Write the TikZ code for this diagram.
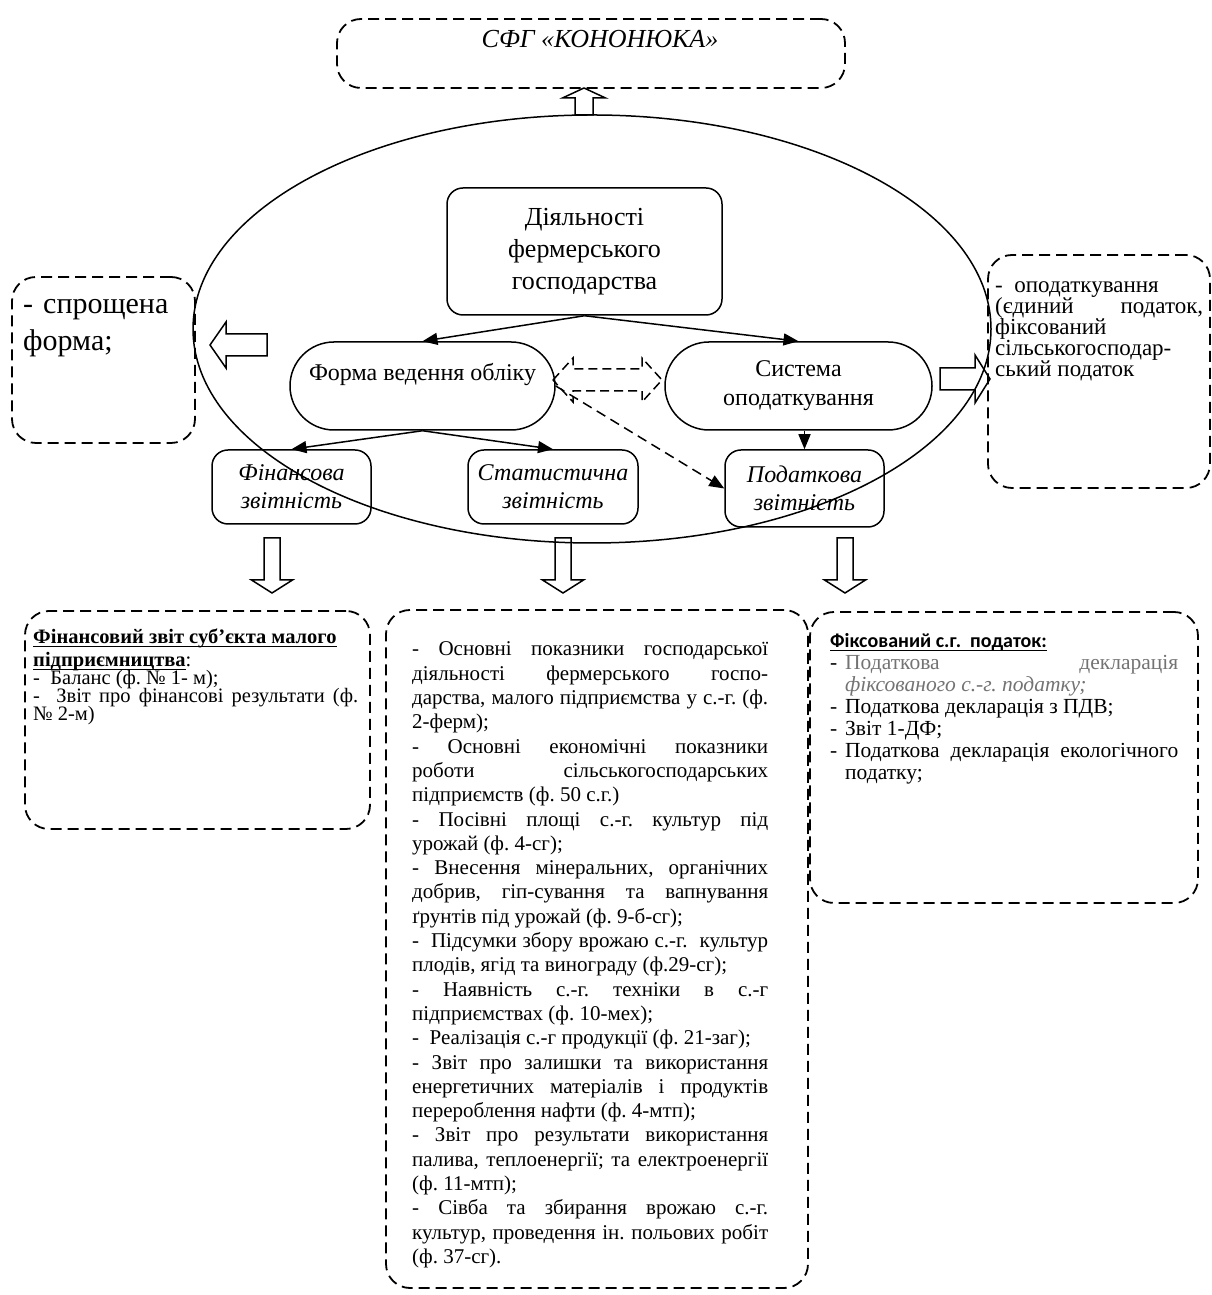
\documentclass[tikz,border=0pt]{standalone}
\usepackage{fontspec}
\setmainfont{Liberation Serif}
\newfontfamily\calibri{Carlito}
\usepackage{tikz}
\usetikzlibrary{positioning}
\usetikzlibrary{arrows.meta}
\definecolor{greyText}{rgb}{0.45,0.45,0.45}
\frenchspacing
\newcommand{\tightLines}{\lineskiplimit=-100pt\relax}
\newcommand{\thickUnder}[1]{\setbox0\hbox{#1}\rlap{\rule[-3pt]{\wd0}{1.3pt}}\box0}
\newcommand{\taxItem}{\par\hangindent=15pt\hangafter=1\noindent\makebox[15pt][l]{-}}

\begin{document}
\begin{tikzpicture}[x=1pt,y=1pt]

            \tikzstyle{solidBox} = [draw, line width=1.5pt, rounded corners=16pt, inner sep=0pt, align=center];
            \tikzstyle{pillBox} = [draw, line width=1.5pt, rounded corners=44pt, inner sep=0pt, align=center, font=\fontsize{24}{29}\selectfont];
            \tikzstyle{dashedBox} = [draw, line width=1.8pt, dash pattern=on 11pt off 6pt, rounded corners=24pt, inner sep=0pt];
            \tikzstyle{blockArrow} = [line width=1.5pt, line join=miter];
            \tikzstyle{link} = [line width=1.5pt, -{Triangle[length=15pt,width=12pt]}];
            \tikzstyle{boxText} = [inner sep=0pt, anchor=base west, align=justify];

            \useasboundingbox (0,0) rectangle (1211,1295);

            \node[dashedBox, minimum width=508, minimum height=69] (farm) at (591,1241.5) {};
            \node[inner sep=0pt, anchor=base, font=\fontsize{26}{30}\selectfont\itshape] (farmName) at (600,1247) {СФГ «КОНОНЮКА»};

            \draw[line width=1.5pt] (592,966) ellipse [x radius=399, y radius=214];

            \node[solidBox, minimum width=275, minimum height=127, font=\fontsize{26}{32}\selectfont] (activity) at (584.5,1043.5) {Діяльності\\фермерського\\господарства};
            \node[pillBox, minimum width=265, minimum height=88] (form) at (422.5,909) {Форма ведення обліку\\~};
            \node[pillBox, minimum width=267, minimum height=88] (taxSys) at (798.5,909) {Система\\оподаткування};

            \node[solidBox, minimum width=159, minimum height=74, font=\fontsize{24}{28}\selectfont\itshape] (finRep) at (291.5,808) {Фінансова\\звітність};
            \node[solidBox, minimum width=170, minimum height=74, font=\fontsize{24}{28}\selectfont\itshape] (statRep) at (553,808) {Статистична\\звітність};
            \node[solidBox, minimum width=159, minimum height=77, font=\fontsize{24}{28}\selectfont\itshape] (taxRep) at (804.5,806.5) {Податкова\\звітність};

            \draw[link] (activity.south) -- (form.north);
            \draw[link] (activity.south) -- (taxSys.north);
            \draw[link] (form.south) -- (finRep.north);
            \draw[link] (form.south) -- (statRep.north);
            \draw[link] (taxSys.south -| taxRep.north) -- (taxRep.north);
            \draw[link, dash pattern=on 10pt off 6pt] (form.east) -- (taxRep.west);

            % block arrows
            \draw[blockArrow] (584,1207) -- (605.5,1197) -- (593,1197) -- (593,1180) -- (575,1180) -- (575,1197) -- (562.5,1197) -- cycle;
            \draw[blockArrow] (210,950) -- (226,973) -- (226,961) -- (267,961) -- (267,939) -- (226,939) -- (226,927) -- cycle;
            \draw[blockArrow] (990,916) -- (975,940) -- (975,927) -- (940,927) -- (940,905) -- (975,905) -- (975,892) -- cycle;
            \draw[blockArrow, dash pattern=on 9pt off 5pt] (553,915) -- (573,937) -- (573,926) -- (642,926) -- (642,937) -- (662,915) -- (642,893) -- (642,904) -- (573,904) -- (573,893) -- cycle;
            \foreach \cx in {272,563,845}
              \draw[blockArrow] (\cx,702) -- (\cx+20.5,715) -- (\cx+8,715) -- (\cx+8,757) -- (\cx-8,757) -- (\cx-8,715) -- (\cx-20.5,715) -- cycle;

            \node[dashedBox, minimum width=183, minimum height=166] (simpl) at (103.5,935) {};
            \node[boxText, text width=170, align=left, font=\fontsize{30}{37}\selectfont] (simplText) at (23,981) {- спрощена\\форма;};

            \node[dashedBox, minimum width=222, minimum height=233] (taxMode) at (1099,923.5) {};
            \node[boxText, text width=208, font=\fontsize{23}{21}\selectfont\tightLines] (taxModeText) at (995,1002)
              {-~ оподаткування\\ (єдиний податок,\linebreak фіксований\\ сільськогосподар-\\ ський податок};

            \node[dashedBox, minimum width=345, minimum height=218] (finBox) at (197.5,575) {};
            \node[boxText, text width=325, font=\fontsize{20.5}{18}\selectfont\tightLines] (finText) at (33,651)
              {\thickUnder{\textbf{Фінансовий звіт суб’єкта малого}}\\[5pt]
               \thickUnder{\textbf{підприємництва}}:\par
               -~ Баланс (ф. № 1- м);\par
               -~ Звіт про фінансові результати (ф.\linebreak № 2-м)};

            \node[dashedBox, minimum width=422, minimum height=678] (statBox) at (597,346) {};
            \node[boxText, text width=356, font=\fontsize{21}{24.3}\selectfont\tightLines] (statText) at (412,639)
              {- Основні показники господарської\linebreak діяльності фермерського госпо-\linebreak дарства, малого підприємства у с.-г. (ф.\linebreak 2-ферм);\par
               - Основні економічні показники\linebreak роботи сільськогосподарських\linebreak підприємств (ф. 50 с.г.)\par
               - Посівні площі с.-г. культур під\linebreak урожай (ф. 4-сг);\par
               - Внесення мінеральних, органічних\linebreak добрив, гіп-сування та вапнування\linebreak ґрунтів під урожай (ф. 9-б-сг);\par
               -~ Підсумки збору врожаю с.-г.~ культур\linebreak плодів, ягід та винограду (ф.29-сг);\par
               - Наявність с.-г. техніки в с.-г\linebreak підприємствах (ф. 10-мех);\par
               -~ Реалізація с.-г продукції (ф. 21-заг);\par
               - Звіт про залишки та використання\linebreak енергетичних матеріалів і продуктів\linebreak перероблення нафти (ф. 4-мтп);\par
               - Звіт про результати використання\linebreak палива, теплоенергії; та електроенергії\linebreak (ф. 11-мтп);\par
               - Сівба та збирання врожаю с.-г.\linebreak культур, проведення ін. польових робіт\linebreak (ф. 37-сг).};

            \node[dashedBox, minimum width=388, minimum height=291] (taxBox) at (1004,537.5) {};
            \node[boxText, text width=348, font=\fontsize{21.5}{22}\selectfont\tightLines] (taxText) at (830,647)
              {{\calibri\fontsize{20}{22}\selectfont\bfseries\thickUnder{Фіксований с.г.~ податок:}}
               \taxItem\textcolor{greyText}{Податкова декларація\linebreak \textit{фіксованого с.-г. податку;}}
               \taxItem Податкова декларація з ПДВ;
               \taxItem Звіт 1-ДФ;
               \taxItem Податкова декларація екологічного\linebreak податку;\par};
          \end{tikzpicture}
\end{document}
